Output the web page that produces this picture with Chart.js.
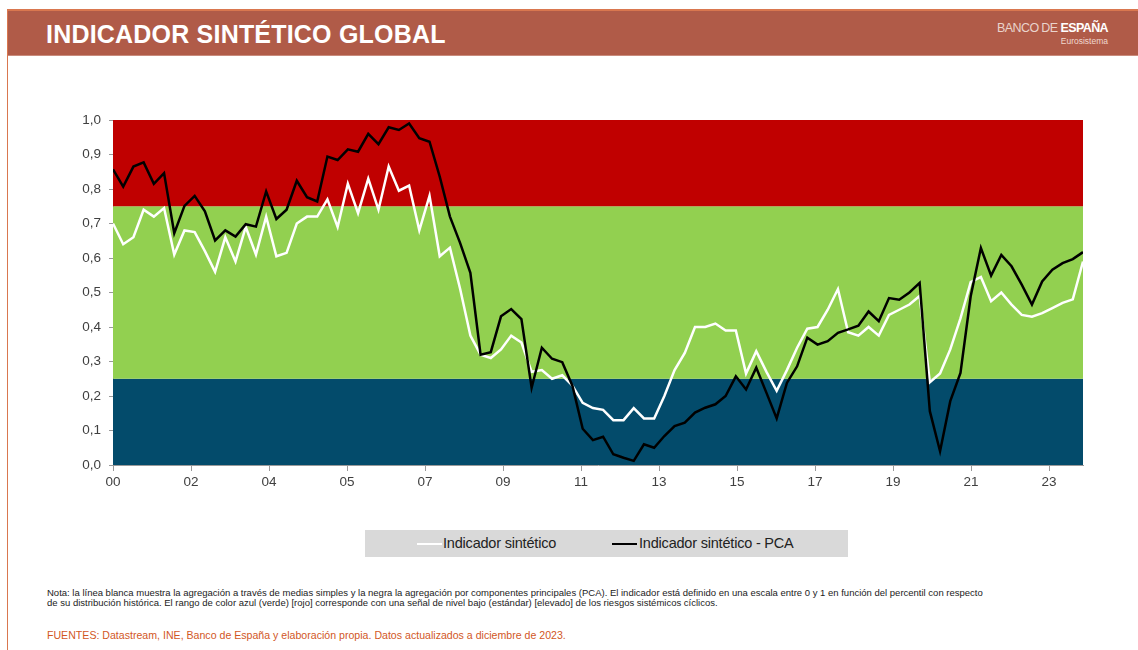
<!DOCTYPE html>
<html lang="es">
<head>
<meta charset="utf-8">
<title>Indicador sintético global</title>
<script src="https://cdn.jsdelivr.net/npm/chart.js@4.4.0/dist/chart.umd.min.js"></script>
<style>
  html, body { margin: 0; padding: 0; background: #fff; }
  body { width: 1138px; height: 650px; position: relative; overflow: hidden; font-family: "Liberation Sans", Arial, sans-serif; }
  .frame { position: absolute; left: 7px; top: 9px; width: 1140px; height: 650px; border-left: 1px solid #d9774f; border-top: 2px solid #d9774f; }
  .header { position: absolute; left: 8px; top: 11px; width: 1130px; height: 44px; background: #b05b48; border-bottom: 1px solid #c98b7c; }
  .header h1 { position: absolute; left: 38px; top: 9px; margin: 0; color: #fff; font-size: 25px; font-weight: bold; letter-spacing: 0.2px; }
  .logo { position: absolute; right: 30px; top: 10px; color: #fff; text-align: right; }
  .logo .b { font-size: 12.5px; letter-spacing: -0.6px; }
  .logo .b span { color: #ead4cc; }
  .logo .e { font-size: 8.5px; color: #f0d8d0; margin-top: 1px; }
  #wrap { position: absolute; left: 0; top: 0; width: 1138px; height: 500px; }
  .legend { position: absolute; left: 365px; top: 530px; width: 483px; height: 27px; background: #d9d9d9; font-size: 14.5px; color: #222; }
  .legend .item { position: absolute; top: 5px; letter-spacing: -0.2px; }
  .legend .sw { position: absolute; top: 13px; height: 2px; width: 25px; }
  .note { position: absolute; left: 47px; top: 588px; font-size: 9.5px; line-height: 10px; color: #222; white-space: nowrap; }
  .src { position: absolute; left: 47px; top: 629px; font-size: 10.6px; color: #d2571f; white-space: nowrap; }
</style>
</head>
<body>
<div class="frame"></div>
<div class="header">
  <h1>INDICADOR SINTÉTICO GLOBAL</h1>
  <div class="logo"><div class="b"><span>BANCO DE</span> <b>ESPAÑA</b></div><div class="e">Eurosistema</div></div>
</div>
<div id="wrap"><canvas id="chart"></canvas></div>
<div class="legend">
  <div class="sw" style="left:52px;background:#fff;"></div>
  <div class="item" style="left:78px;">Indicador sintético</div>
  <div class="sw" style="left:247px;background:#000;"></div>
  <div class="item" style="left:274px;">Indicador sintético - PCA</div>
</div>
<div class="note">Nota: la línea blanca muestra la agregación a través de medias simples y la negra la agregación por componentes principales (PCA). El indicador está definido en una escala entre 0 y 1 en función del percentil con respecto<br>de su distribución histórica. El rango de color azul (verde) [rojo] corresponde con una señal de nivel bajo (estándar) [elevado] de los riesgos sistémicos cíclicos.</div>
<div class="src">FUENTES: Datastream, INE, Banco de España y elaboración propia. Datos actualizados a diciembre de 2023.</div>
<script>
// Datos trimestrales 2000T1 - 2023T4
const indicadorSintetico = [
  0.70, 0.64, 0.66, 0.74, 0.72, 0.745, 0.61, 0.68, 0.675, 0.62,
  0.56, 0.66, 0.59, 0.69, 0.61, 0.72, 0.605, 0.615, 0.70, 0.72,
  0.72, 0.77, 0.69, 0.815, 0.73, 0.83, 0.74, 0.865, 0.795, 0.81,
  0.68, 0.78, 0.605, 0.63, 0.51, 0.375, 0.32, 0.31, 0.335, 0.375,
  0.355, 0.27, 0.275, 0.25, 0.26, 0.23, 0.18, 0.165, 0.16, 0.13,
  0.13, 0.165, 0.135, 0.135, 0.20, 0.275, 0.325, 0.40, 0.40, 0.41,
  0.39, 0.39, 0.265, 0.33, 0.27, 0.215, 0.275, 0.34, 0.395, 0.40,
  0.45, 0.51, 0.385, 0.375, 0.40, 0.375, 0.435, 0.45, 0.465, 0.49,
  0.24, 0.265, 0.335, 0.425, 0.53, 0.545, 0.475, 0.50, 0.465, 0.435,
  0.43, 0.44, 0.455, 0.47, 0.48, 0.59
];
const indicadorPCA = [
  0.857, 0.807, 0.865, 0.877, 0.815, 0.846, 0.672, 0.751, 0.78, 0.735,
  0.651, 0.68, 0.662, 0.698, 0.691, 0.793, 0.713, 0.74, 0.824, 0.776,
  0.764, 0.894, 0.884, 0.915, 0.908, 0.96, 0.93, 0.979, 0.971, 0.99,
  0.947, 0.937, 0.836, 0.72, 0.643, 0.557, 0.32, 0.327, 0.431, 0.452,
  0.423, 0.224, 0.34, 0.308, 0.298, 0.229, 0.105, 0.072, 0.082, 0.031,
  0.021, 0.012, 0.06, 0.05, 0.084, 0.113, 0.123, 0.152, 0.166, 0.176,
  0.20, 0.257, 0.219, 0.282, 0.209, 0.135, 0.238, 0.286, 0.369, 0.349,
  0.359, 0.383, 0.393, 0.404, 0.445, 0.417, 0.484, 0.479, 0.50, 0.528,
  0.156, 0.04, 0.185, 0.267, 0.489, 0.629, 0.549, 0.609, 0.576, 0.523,
  0.465, 0.532, 0.566, 0.585, 0.597, 0.617
];
const xTickLabels = ['00', '02', '04', '05', '07', '09', '11', '13', '15', '17', '19', '21', '23'];
const xTickStep = 7.64;           // trimestres entre etiquetas del eje
const bandLimits = [0, 0.25, 0.75, 1.0];
const bandColors = ['#034b6b', '#92d050', '#c00000'];

// Franjas de color de fondo
const bandas = {
  id: 'bandas',
  beforeDatasetsDraw(chart) {
    const { ctx, chartArea, scales } = chart;
    ctx.save();
    for (let i = 0; i < bandColors.length; i++) {
      const yTop = scales.y.getPixelForValue(bandLimits[i + 1]);
      const yBot = scales.y.getPixelForValue(bandLimits[i]);
      ctx.fillStyle = bandColors[i];
      ctx.fillRect(chartArea.left, yTop, chartArea.right - chartArea.left, yBot - yTop);
    }
    ctx.restore();
  }
};

const toPoints = arr => arr.map((v, i) => ({ x: i, y: v }));

new Chart(document.getElementById('chart'), {
  type: 'line',
  data: {
    datasets: [
      { label: 'Indicador sintético', data: toPoints(indicadorSintetico), borderColor: '#ffffff', borderWidth: 2.5, pointRadius: 0, tension: 0, order: 1 },
      { label: 'Indicador sintético - PCA', data: toPoints(indicadorPCA), borderColor: '#000000', borderWidth: 2.5, pointRadius: 0, tension: 0, order: 0 }
    ]
  },
  options: {
    responsive: true,
    maintainAspectRatio: false,
    animation: false,
    layout: { padding: { top: 120, right: 55, left: 0, bottom: 0 } },
    plugins: { legend: { display: false }, tooltip: { enabled: false } },
    scales: {
      x: {
        type: 'linear',
        min: 0,
        max: indicadorPCA.length - 1,
        afterBuildTicks: scale => { scale.ticks = xTickLabels.map((_, k) => ({ value: k * xTickStep })); },
        afterFit: scale => { scale.height = 35; },
        ticks: {
          autoSkip: false,
          maxRotation: 0,
          padding: 3,
          color: '#404040',
          font: { family: "'Liberation Sans', Arial, sans-serif", size: 13.5 },
          callback: (v, i) => xTickLabels[i]
        },
        grid: { drawOnChartArea: false, tickLength: 6, color: '#9a9a9a' },
        border: { color: '#9a9a9a' }
      },
      y: {
        min: 0,
        max: 1,
        afterFit: scale => { scale.width = 113; },
        ticks: {
          stepSize: 0.1,
          padding: 8,
          color: '#404040',
          font: { family: "'Liberation Sans', Arial, sans-serif", size: 13.5 },
          callback: v => v.toFixed(1).replace('.', ',')
        },
        grid: { drawOnChartArea: false, tickLength: 4, color: '#9a9a9a' },
        border: { color: '#9a9a9a' }
      }
    }
  },
  plugins: [bandas]
});
</script>
</body>
</html>
